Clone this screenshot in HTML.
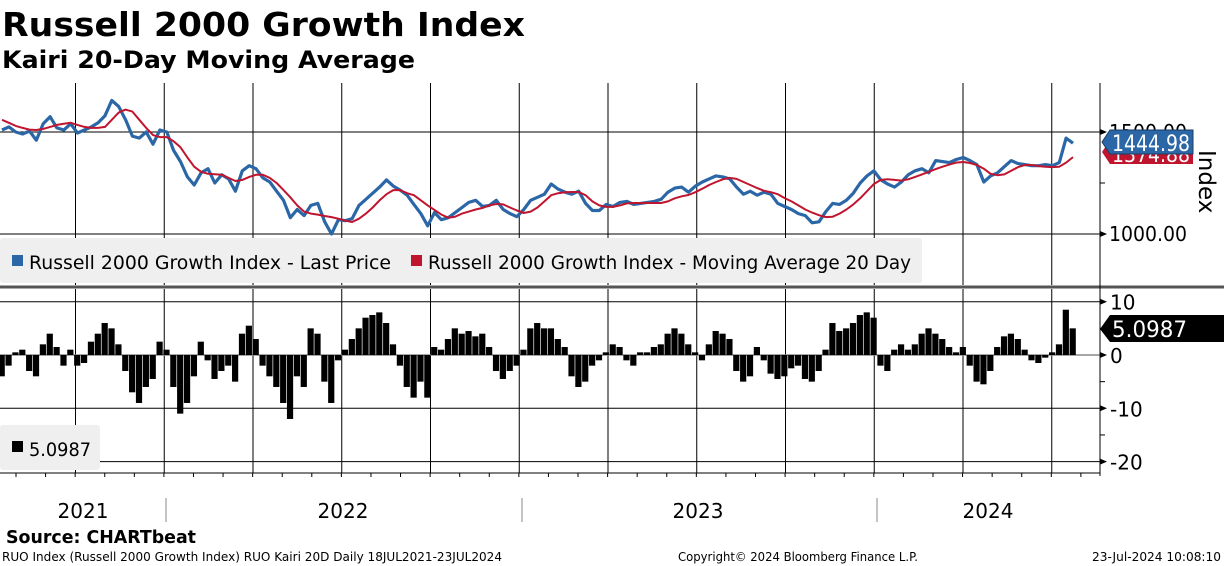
<!DOCTYPE html>
<html><head><meta charset="utf-8"><style>
html,body{margin:0;padding:0;background:#fff;}
svg{display:block;font-family:"DejaVu Sans","Liberation Sans",sans-serif;}
</style></head><body>
<svg id="chart" width="1224" height="566" viewBox="0 0 1224 566" xmlns="http://www.w3.org/2000/svg">
<text x="2" y="36" font-size="33" font-weight="bold" fill="#000" textLength="523" lengthAdjust="spacingAndGlyphs">Russell 2000 Growth Index</text>
<text x="2" y="68" font-size="24" font-weight="bold" fill="#000" textLength="413" lengthAdjust="spacingAndGlyphs">Kairi 20-Day Moving Average</text>
<g id="grid"></g>
<g id="marks"></g>
<rect x="0" y="285.5" width="1224" height="3" fill="#555"/>
<line x1="1100" y1="83" x2="1100" y2="476" stroke="#000" stroke-width="1"/>
<line x1="0" y1="473" x2="1100" y2="473" stroke="#000" stroke-width="1"/>
<g id="axes" font-size="20" fill="#000"></g>
<text transform="translate(1199,150) rotate(90)" font-size="23" fill="#000">Index</text>
<g>
<rect x="0" y="238" width="922" height="45" fill="#efefef" rx="3"/>
<rect x="12" y="255" width="11" height="11" fill="#2b67a6"/>
<text x="29" y="269" font-size="19" textLength="362" lengthAdjust="spacingAndGlyphs">Russell 2000 Growth Index - Last Price</text>
<rect x="411" y="255" width="11" height="11" fill="#c0152f"/>
<text x="428" y="269" font-size="19" textLength="483" lengthAdjust="spacingAndGlyphs">Russell 2000 Growth Index - Moving Average 20 Day</text>
</g>
<g>
<rect x="0" y="425" width="100" height="45" fill="#efefef" rx="3"/>
<rect x="12" y="441" width="11" height="11" fill="#000"/>
<text x="29" y="456" font-size="19" textLength="62" lengthAdjust="spacingAndGlyphs">5.0987</text>
</g>
<g>
<polygon points="1102,152 1110,140 1193,140 1193,164 1110,164" fill="#c0152f"/>
<text x="1112" y="162" font-size="21" fill="#fff" textLength="78" lengthAdjust="spacingAndGlyphs">1374.88</text>
</g>
<g>
<polygon points="1102,142 1110,130 1193,130 1193,154 1110,154" fill="#2b67a6" stroke="#1a3d66" stroke-width="1"/>
<text x="1112" y="151" font-size="22" fill="#fff" textLength="78" lengthAdjust="spacingAndGlyphs">1444.98</text>
</g>
<g>
<polygon points="1100,329 1110,315 1224,315 1224,342 1110,342" fill="#000"/>
<text x="1112" y="337" font-size="22" fill="#fff" textLength="75" lengthAdjust="spacingAndGlyphs">5.0987</text>
</g>
<g font-size="20" fill="#000" text-anchor="middle">
<text x="83" y="518">2021</text><text x="343" y="518">2022</text><text x="698" y="518">2023</text><text x="988" y="518">2024</text>
</g>
<g stroke="#888" stroke-width="1"><line x1="166" y1="498" x2="166" y2="522"/><line x1="522" y1="498" x2="522" y2="522"/><line x1="877" y1="498" x2="877" y2="522"/></g>
<text x="6" y="543" font-size="18" font-weight="bold" fill="#000" textLength="190" lengthAdjust="spacingAndGlyphs">Source: CHARTbeat</text>
<text x="2" y="561" font-size="12" fill="#000" textLength="500" lengthAdjust="spacingAndGlyphs">RUO Index (Russell 2000 Growth Index) RUO Kairi 20D  Daily 18JUL2021-23JUL2024</text>
<text x="678" y="561" font-size="12" fill="#000" textLength="240" lengthAdjust="spacingAndGlyphs">Copyright© 2024 Bloomberg Finance L.P.</text>
<text x="1092" y="561" font-size="12" fill="#000" textLength="129" lengthAdjust="spacingAndGlyphs">23-Jul-2024 10:08:10</text>
</svg>
<script>
const priceValues=[1510,1525,1500,1490,1505,1460,1540,1575,1520,1510,1540,1495,1510,1525,1545,1580,1655,1625,1560,1480,1470,1500,1440,1510,1500,1410,1355,1280,1240,1300,1320,1250,1290,1270,1210,1310,1335,1320,1275,1255,1210,1165,1080,1120,1090,1140,1150,1060,1000,1070,1065,1075,1140,1170,1200,1230,1265,1235,1215,1190,1145,1100,1040,1105,1070,1080,1105,1130,1155,1165,1135,1140,1165,1120,1100,1085,1120,1165,1180,1195,1245,1220,1205,1195,1210,1150,1115,1115,1145,1135,1155,1160,1145,1150,1155,1160,1170,1205,1225,1230,1205,1235,1255,1270,1285,1280,1270,1230,1195,1210,1190,1205,1195,1150,1135,1120,1100,1090,1055,1060,1110,1150,1145,1165,1200,1250,1285,1310,1265,1245,1230,1255,1290,1310,1320,1300,1360,1355,1350,1365,1375,1360,1340,1255,1285,1300,1330,1360,1345,1340,1335,1335,1340,1335,1350,1470,1445];
const maValues=[1560,1545,1530,1520,1512,1510,1515,1525,1535,1540,1545,1535,1525,1520,1520,1525,1560,1595,1610,1600,1560,1520,1485,1475,1475,1455,1425,1375,1330,1305,1295,1293,1290,1275,1260,1265,1280,1290,1290,1275,1250,1215,1180,1140,1110,1100,1095,1088,1083,1075,1065,1059,1075,1100,1130,1165,1195,1215,1215,1200,1190,1165,1140,1118,1095,1080,1085,1100,1110,1120,1128,1140,1147,1145,1130,1115,1103,1110,1130,1160,1190,1200,1205,1206,1206,1190,1160,1140,1133,1133,1140,1150,1152,1152,1152,1152,1152,1160,1175,1185,1191,1205,1222,1240,1255,1268,1275,1270,1255,1240,1225,1212,1205,1195,1176,1160,1140,1120,1105,1092,1083,1085,1100,1120,1145,1175,1210,1245,1265,1268,1265,1262,1268,1280,1292,1305,1318,1330,1340,1350,1353,1348,1338,1320,1295,1288,1292,1310,1328,1338,1338,1333,1330,1328,1330,1350,1377];
const kairiValues=[-4,-2,0.5,1,-3,-4,2,4,1.5,-2,1,-2,-1.5,2.5,4,6,5,2,-3,-7,-9,-6,-4.5,2.5,1,-6,-11,-9,-4,2.5,-1,-4.5,-3,-2,-5,4,5.5,3,-2,-4,-6,-9,-12,-4,-6,5,4,-5,-9,-1,1,3,5,7,7.5,8,6,2,-2,-6,-8,-5,-8,1.5,1,3,5,4,4.5,3.5,4,1.5,-3,-4.5,-3,-2,1,5,6,5,5,3,1.5,-4,-6,-5,-2,-1,0.5,2,1.5,-1,-2,0.5,0.5,1.5,2,4,5,4,2,0.5,-1,2,4.5,4,3,-3,-5,-4,1.5,-1,-3.5,-4.5,-4,-2.5,-2,-4.5,-5,-3,1,6,4.5,5,6,7.5,8,7,-2,-3,1,2,1,2,4,5,4,3,1.5,0.5,1.5,-2,-5,-5.5,-3,1.5,3.5,4,3,1,-1,-1.5,-0.5,0.5,2,8.5,5];
const priceTicks=[1000,1500];
const kairiTicks=[10,0,-10,-20];
const quarterLabels=["Oct21","Jan22","Apr22","Jul22","Oct22","Jan23","Apr23","Jul23","Oct23","Jan24","Apr24","Jul24"];

const NS="http://www.w3.org/2000/svg";
const X0=2,X1=1073;
function xScale(i){return X0+i*(X1-X0)/(priceValues.length-1);}
function yPrice(v){return 234-(v-1000)*(102/500);}
function yKairi(v){return 355-v*5.33;}
function mk(tag,attrs,parent){const e=document.createElementNS(NS,tag);for(const k in attrs)e.setAttribute(k,attrs[k]);parent.appendChild(e);return e;}
const grid=document.getElementById('grid'),marks=document.getElementById('marks'),axes=document.getElementById('axes');

quarterLabels.forEach((q,k)=>{
  const x=75.5+k*88.75;
  const l1=mk('line',{x1:x,y1:83,x2:x,y2:285,stroke:'#000','stroke-width':1},grid);
  
  
  const l2=mk('line',{x1:x,y1:289,x2:x,y2:473,stroke:'#000','stroke-width':1},grid);
  
  
});
for(let m=0;m<38;m++){const x=16+m*29.58;if(x>1100)break;mk('line',{x1:x,y1:473,x2:x,y2:477,stroke:'#000'},grid);}
priceTicks.forEach(t=>{
  const y=yPrice(t);
  const g=mk('line',{x1:0,y1:y,x2:1100,y2:y,stroke:'#000','stroke-width':1},grid);
  
  
  mk('polygon',{points:`1100,${y-3} 1107,${y} 1100,${y+3}`,fill:'#000'},axes);
  const tx=mk('text',{x:1109,y:y+7,textLength:78,lengthAdjust:'spacingAndGlyphs'},axes);tx.textContent=t.toFixed(2);
  
  
});
mk('line',{x1:1100,y1:yPrice(1250),x2:1105,y2:yPrice(1250),stroke:'#000'},axes);
kairiTicks.forEach(t=>{
  const y=yKairi(t);
  const g=mk('line',{x1:0,y1:y,x2:1100,y2:y,stroke:t===0?'#888':'#000','stroke-width':t===0?1.5:1},t===0?marks:grid);
  
  
  mk('polygon',{points:`1100,${y-3} 1107,${y} 1100,${y+3}`,fill:'#000'},axes);
  const tx=mk('text',{x:1110,y:y+8},axes);tx.textContent=String(t);
  
  
});
[5,-5,-15].forEach(t=>mk('line',{x1:1100,y1:yKairi(t),x2:1105,y2:yKairi(t),stroke:'#000'},axes));

kairiValues.forEach((v,i)=>{
  const x=xScale(i),y0=yKairi(0),y=yKairi(v);
  const r=mk('rect',{x:x-3.4,y:Math.min(y,y0),width:6.2,height:Math.abs(y-y0),fill:'#000'},marks);
  
  
});
function line(vals,color,w,name){
  const d=vals.map((v,i)=>(i?'L':'M')+xScale(i).toFixed(1)+','+yPrice(v).toFixed(1)).join(' ');
  const p=mk('path',{d:d,fill:'none',stroke:color,'stroke-width':w,'stroke-linejoin':'round'},marks);
  
  
}
line(priceValues,'#2b67a6',3.2,'last-price-line');
line(maValues,'#c0152f',2,'moving-average-line');
</script>
</body></html>
